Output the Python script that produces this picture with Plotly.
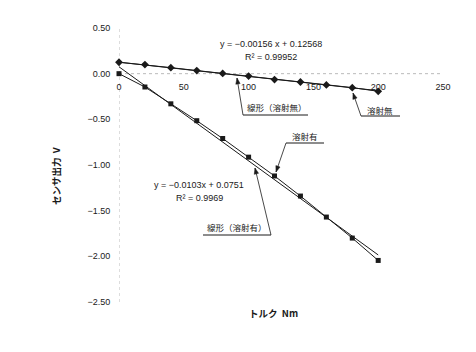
import math
import plotly.graph_objects as go

# ---- data ----
torque = [0, 20, 40, 60, 80, 100, 120, 140, 160, 180, 200]
v_no_spray = [0.125, 0.099, 0.066, 0.034, 0.003, -0.026, -0.065, -0.091, -0.123, -0.153, -0.193]
v_spray = [0.00, -0.146, -0.33, -0.515, -0.71, -0.914, -1.12, -1.34, -1.57, -1.80, -2.045]
fit_no = (-0.00156, 0.12568)
fit_yes = (-0.0103, 0.0751)
fit_x = [0, 200]
x_ticks = [0, 50, 100, 150, 200, 250]
y_ticks = [0.5, 0.0, -0.5, -1.0, -1.5, -2.0, -2.5]

W, H = 476, 352
L, R, T, B = 119, 33, 28, 50
X0, X1 = 0, 250
Y0, Y1 = -2.5, 0.5

def dx(px):
    return X0 + (px - L) / (W - L - R) * (X1 - X0)

def dy(py):
    return Y1 - (py - T) / (H - T - B) * (Y1 - Y0)

FONT = "Liberation Sans, Arial, sans-serif"
JFONT = "Noto Sans CJK JP, sans-serif"
INK = "#1a1a1a"

fig = go.Figure()
fig.add_trace(go.Scatter(x=fit_x, y=[fit_no[0] * v + fit_no[1] for v in fit_x], mode="lines",
                         line=dict(color=INK, width=1), showlegend=False, hoverinfo="skip"))
fig.add_trace(go.Scatter(x=fit_x, y=[fit_yes[0] * v + fit_yes[1] for v in fit_x], mode="lines",
                         line=dict(color=INK, width=1), showlegend=False, hoverinfo="skip"))
fig.add_trace(go.Scatter(x=torque, y=v_no_spray, mode="lines+markers", name="溶射無",
                         line=dict(color=INK, width=1),
                         marker=dict(symbol="diamond", size=6, color=INK),
                         showlegend=False, cliponaxis=False))
fig.add_trace(go.Scatter(x=torque, y=v_spray, mode="lines+markers", name="溶射有",
                         line=dict(color=INK, width=1),
                         marker=dict(symbol="square", size=5, color=INK),
                         showlegend=False, cliponaxis=False))

shapes = [
    dict(type="line", xref="x", yref="y", x0=0, x1=250, y0=0, y1=0,
         line=dict(color="#bbbbbb", width=1, dash="dot"), layer="below"),
    dict(type="line", xref="x", yref="y", x0=0, x1=0, y0=-2.5, y1=0.5,
         line=dict(color="#bbbbbb", width=1, dash="dot"), layer="below"),
]

annotations = []

def txt(s, px, py, size=9, font=FONT):
    annotations.append(dict(x=dx(px), y=dy(py), xref="x", yref="y", text=s, showarrow=False,
                            font=dict(family=font, size=size, color=INK),
                            xanchor="center", yanchor="middle"))

def arrow(x0, y0, x1, y1):
    shapes.append(dict(type="line", xref="x", yref="y", x0=dx(x0), y0=dy(y0), x1=dx(x1), y1=dy(y1),
                       line=dict(color=INK, width=0.8)))
    ang = math.atan2(y1 - y0, x1 - x0)
    hl, hw = 6.0, 2.2
    bx, by = x1 - hl * math.cos(ang), y1 - hl * math.sin(ang)
    px_, py_ = -math.sin(ang), math.cos(ang)
    p1 = (bx + hw * px_, by + hw * py_)
    p2 = (bx - hw * px_, by - hw * py_)
    path = "M {} {} L {} {} L {} {} Z".format(dx(x1), dy(y1), dx(p1[0]), dy(p1[1]), dx(p2[0]), dy(p2[1]))
    shapes.append(dict(type="path", xref="x", yref="y", path=path, fillcolor=INK,
                       line=dict(color=INK, width=0.5)))

def callout(s, tx, ty, ux0, ux1, uy, ax_, ay_, tipx, tipy):
    txt(s, tx, ty, size=8.5, font=JFONT)
    shapes.append(dict(type="line", xref="x", yref="y", x0=dx(ux0), x1=dx(ux1), y0=dy(uy), y1=dy(uy),
                       line=dict(color=INK, width=1)))
    arrow(ax_, ay_, tipx, tipy)

txt("y = −0.00156 x + 0.12568", 271, 44)
txt("R² = 0.99952", 271, 57)
txt("y = −0.0103x + 0.0751", 199, 185)
txt("R² = 0.9969", 199, 198)

callout("線形（溶射無）", 277, 107, 243, 308, 115, 243, 115, 237, 78)
callout("溶射無", 380, 110, 361, 400, 116, 361, 116, 353, 93)
callout("溶射有", 305, 136, 286, 324, 143, 286, 143, 276, 172)
callout("線形（溶射有）", 237, 227, 203, 271, 235, 271, 235, 255, 168)

annotations.append(dict(x=(47 - L) / (W - L - R), y=(H - B - 176) / (H - T - B),
                        xref="paper", yref="paper", text="センサ出力  V",
                        showarrow=False, textangle=-90,
                        font=dict(family=JFONT, size=9.5, color=INK, weight="bold")))
annotations.append(dict(x=(273 - L) / (W - L - R), y=(H - B - 322) / (H - T - B),
                        xref="paper", yref="paper", text="トルク  Nm", showarrow=False,
                        font=dict(family=JFONT, size=9.5, color=INK, weight="bold")))

fig.update_layout(
    width=W, height=H, margin=dict(l=L, r=R, t=T, b=B),
    paper_bgcolor="white", plot_bgcolor="white",
    shapes=shapes, annotations=annotations,
    xaxis=dict(range=[X0, X1], tickvals=x_ticks, showgrid=False, zeroline=False, showline=False,
               anchor="free", position=(0 - Y0) / (Y1 - Y0),
               ticks="outside", ticklen=5, tickcolor="rgba(0,0,0,0)",
               tickfont=dict(family=FONT, size=9, color=INK)),
    yaxis=dict(range=[Y0, Y1], tickvals=y_ticks, tickformat=".2f", showgrid=False, zeroline=False,
               showline=False, ticks="outside", ticklen=6, tickcolor="rgba(0,0,0,0)",
               tickfont=dict(family=FONT, size=9, color=INK)),
)

fig.write_html("out.html")
